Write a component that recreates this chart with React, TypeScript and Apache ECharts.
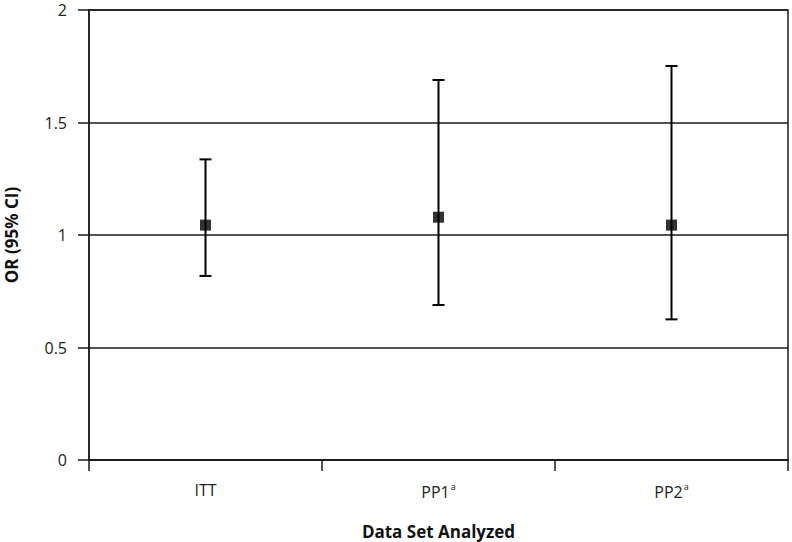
import React, { useEffect, useRef } from "react";
import * as echarts from "echarts";

const categories = ["ITT", "PP1{sup|a}", "PP2{sup|a}"];
const oddsRatios = [1.044, 1.079, 1.044];
const lowerCI = [0.818, 0.689, 0.625];
const upperCI = [1.336, 1.689, 1.751];
const yTicks = { min: 0, max: 2, interval: 0.5 };

export default function App() {
  const ref = useRef<HTMLDivElement>(null);
  useEffect(() => {
    if (!ref.current) return;
    const chart = echarts.init(ref.current, null, { renderer: "svg" });
    const lineColor = "#1a1a1a";
    const font = "'Open Sans', 'Noto Sans', sans-serif";
    const errData = categories.map((_, i) => [i, lowerCI[i], upperCI[i]]);
    chart.setOption({
      animation: false,
      backgroundColor: "#ffffff",
      grid: {
        left: 89,
        right: 4,
        top: 10,
        bottom: 82,
        containLabel: false,
        outerBoundsMode: "none",
        show: true,
        borderColor: lineColor,
        borderWidth: 1.5,
      },
      xAxis: {
        type: "category",
        data: categories,
        boundaryGap: true,
        name: "Data Set Analyzed",
        nameLocation: "middle",
        nameGap: 63,
        nameTextStyle: { fontFamily: font, fontWeight: "bold", fontSize: 17, color: "#111" },
        axisLine: { lineStyle: { color: lineColor, width: 1.5 } },
        axisTick: { show: true, length: 11, lineStyle: { color: lineColor, width: 1.5 } },
        axisLabel: {
          margin: 22,
          fontFamily: font,
          fontSize: 16,
          color: "#222",
          rich: {
            sup: { fontSize: 9, fontFamily: font, color: "#222", verticalAlign: "top", padding: [0, 0, 10, 1] },
          },
        },
        splitLine: { show: false },
      },
      yAxis: {
        type: "value",
        min: yTicks.min,
        max: yTicks.max,
        interval: yTicks.interval,
        name: "OR (95% CI)",
        nameLocation: "middle",
        nameGap: 69,
        nameRotate: 90,
        nameTextStyle: { fontFamily: font, fontWeight: "bold", fontSize: 17, color: "#111" },
        axisLine: { show: true, lineStyle: { color: lineColor, width: 1.5 } },
        axisTick: { show: true, length: 11, lineStyle: { color: lineColor, width: 1.5 } },
        axisLabel: { margin: 22, fontFamily: font, fontSize: 16, color: "#222" },
        splitLine: { show: true, lineStyle: { color: lineColor, width: 1.5 } },
      },
      series: [
        {
          type: "custom",
          data: errData,
          z: 3,
          renderItem: (params: any, api: any) => {
            const x = api.value(0);
            const lo = api.coord([x, api.value(1)]);
            const hi = api.coord([x, api.value(2)]);
            const half = 6;
            const style = { stroke: "#000", lineWidth: 2 };
            return {
              type: "group",
              children: [
                { type: "line", shape: { x1: lo[0], y1: lo[1], x2: hi[0], y2: hi[1] }, style },
                { type: "line", shape: { x1: hi[0] - half, y1: hi[1], x2: hi[0] + half, y2: hi[1] }, style },
                { type: "line", shape: { x1: lo[0] - half, y1: lo[1], x2: lo[0] + half, y2: lo[1] }, style },
              ],
            };
          },
        },
        {
          type: "scatter",
          data: oddsRatios,
          symbol: "rect",
          symbolSize: 11,
          z: 4,
          itemStyle: { color: "#000" },
        },
      ],
    });
    return () => chart.dispose();
  }, []);
  return <div ref={ref} style={{ width: 792, height: 542, position: "absolute", left: 0, top: 0 }} />;
}
